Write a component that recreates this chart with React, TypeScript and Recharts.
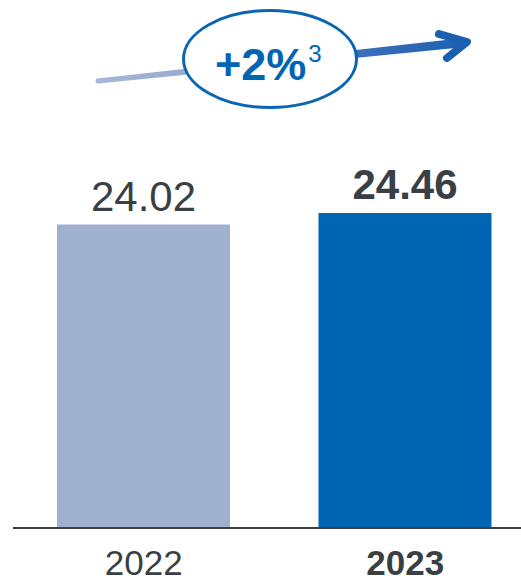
import { BarChart, Bar, XAxis, YAxis, Cell, LabelList } from "recharts";

const years = ["2022", "2023"];
const values = [24.02, 24.46];
const barColors = ["#9fb1cf", "#0065b3"];
const boldFlags = [false, true];
const growthLabel = "+2%";
const growthNote = "3";

const FONT = "'Liberation Sans', Arial, sans-serif";
const TEXT = "#3a3f44";

const data = years.map((y, i) => ({ year: y, value: values[i], bold: boldFlags[i] }));

/** x축 눈금: 최근 연도만 굵게 */
const YearTick = (props: any) => {
  const { x, y, payload, index } = props;
  return (
    <text
      x={x}
      y={y}
      dy="0.71em"
      textAnchor="middle"
      fontFamily={FONT}
      fontSize={35}
      fontWeight={boldFlags[index] ? 700 : 400}
      fill={TEXT}
    >
      {payload.value}
    </text>
  );
};

/** 막대 위 값 표시 */
const ValueLabel = (props: any) => {
  const { x, y, width, value, index } = props;
  return (
    <text
      x={x + width / 2}
      y={y - 14}
      textAnchor="middle"
      fontFamily={FONT}
      fontSize={42}
      fontWeight={boldFlags[index] ? 700 : 400}
      fill={TEXT}
    >
      {Number(value).toFixed(2)}
    </text>
  );
};

/** 상단 성장률 화살표 + 타원 */
const GrowthBadge = () => (
  <svg
    width={521}
    height={130}
    style={{ position: "absolute", left: 0, top: 0, pointerEvents: "none" }}
  >
    <defs>
      <linearGradient id="arrowGrad" gradientUnits="userSpaceOnUse" x1={98} y1={0} x2={468} y2={0}>
        <stop offset="0%" stopColor="#a6b6d5" />
        <stop offset="30%" stopColor="#93a9d0" />
        <stop offset="70%" stopColor="#3d70b9" />
        <stop offset="100%" stopColor="#1b5fb1" />
      </linearGradient>
    </defs>
    <circle cx={98} cy={81} r={2.5} fill="#a6b6d5" />
    <polygon points="97.7,78.5 98.3,83.5 460.5,47.5 459.5,38.5" fill="url(#arrowGrad)" />
    <polyline
      points="439,34 467,42 447,58"
      fill="none"
      stroke="#1b5fb1"
      strokeWidth={8}
      strokeLinecap="round"
      strokeLinejoin="round"
    />
    <ellipse cx={270} cy={59} rx={86.5} ry={48.5} fill="#fff" stroke="#0a65b3" strokeWidth={3} />
    <text x={215} y={80} fontFamily={FONT} fontSize={45} fontWeight={700} fill="#0065b3">
      {growthLabel}
      <tspan dx={2} dy={-18} fontSize={24} fontWeight={400}>
        {growthNote}
      </tspan>
    </text>
  </svg>
);

const App = () => {
  return (
    <div
      style={{
        position: "absolute",
        left: 0,
        top: 0,
        width: 521,
        height: 580,
        overflow: "hidden",
        background: "#fff",
      }}
    >
      <BarChart
        width={536}
        height={580}
        data={data}
        margin={{ top: 213, right: 0, left: 13, bottom: 0 }}
      >
        <XAxis
          dataKey="year"
          height={52}
          axisLine={{ stroke: TEXT, strokeWidth: 2 }}
          tickLine={false}
          tickSize={0}
          tickMargin={22}
          tick={<YearTick />}
        />
        <YAxis hide domain={[12.5, 24.46]} />
        <Bar dataKey="value" barSize={173} isAnimationActive={false}>
          {data.map((d, i) => (
            <Cell key={d.year} fill={barColors[i]} />
          ))}
          <LabelList dataKey="value" content={<ValueLabel />} />
        </Bar>
      </BarChart>
      <GrowthBadge />
    </div>
  );
};

export default App;
